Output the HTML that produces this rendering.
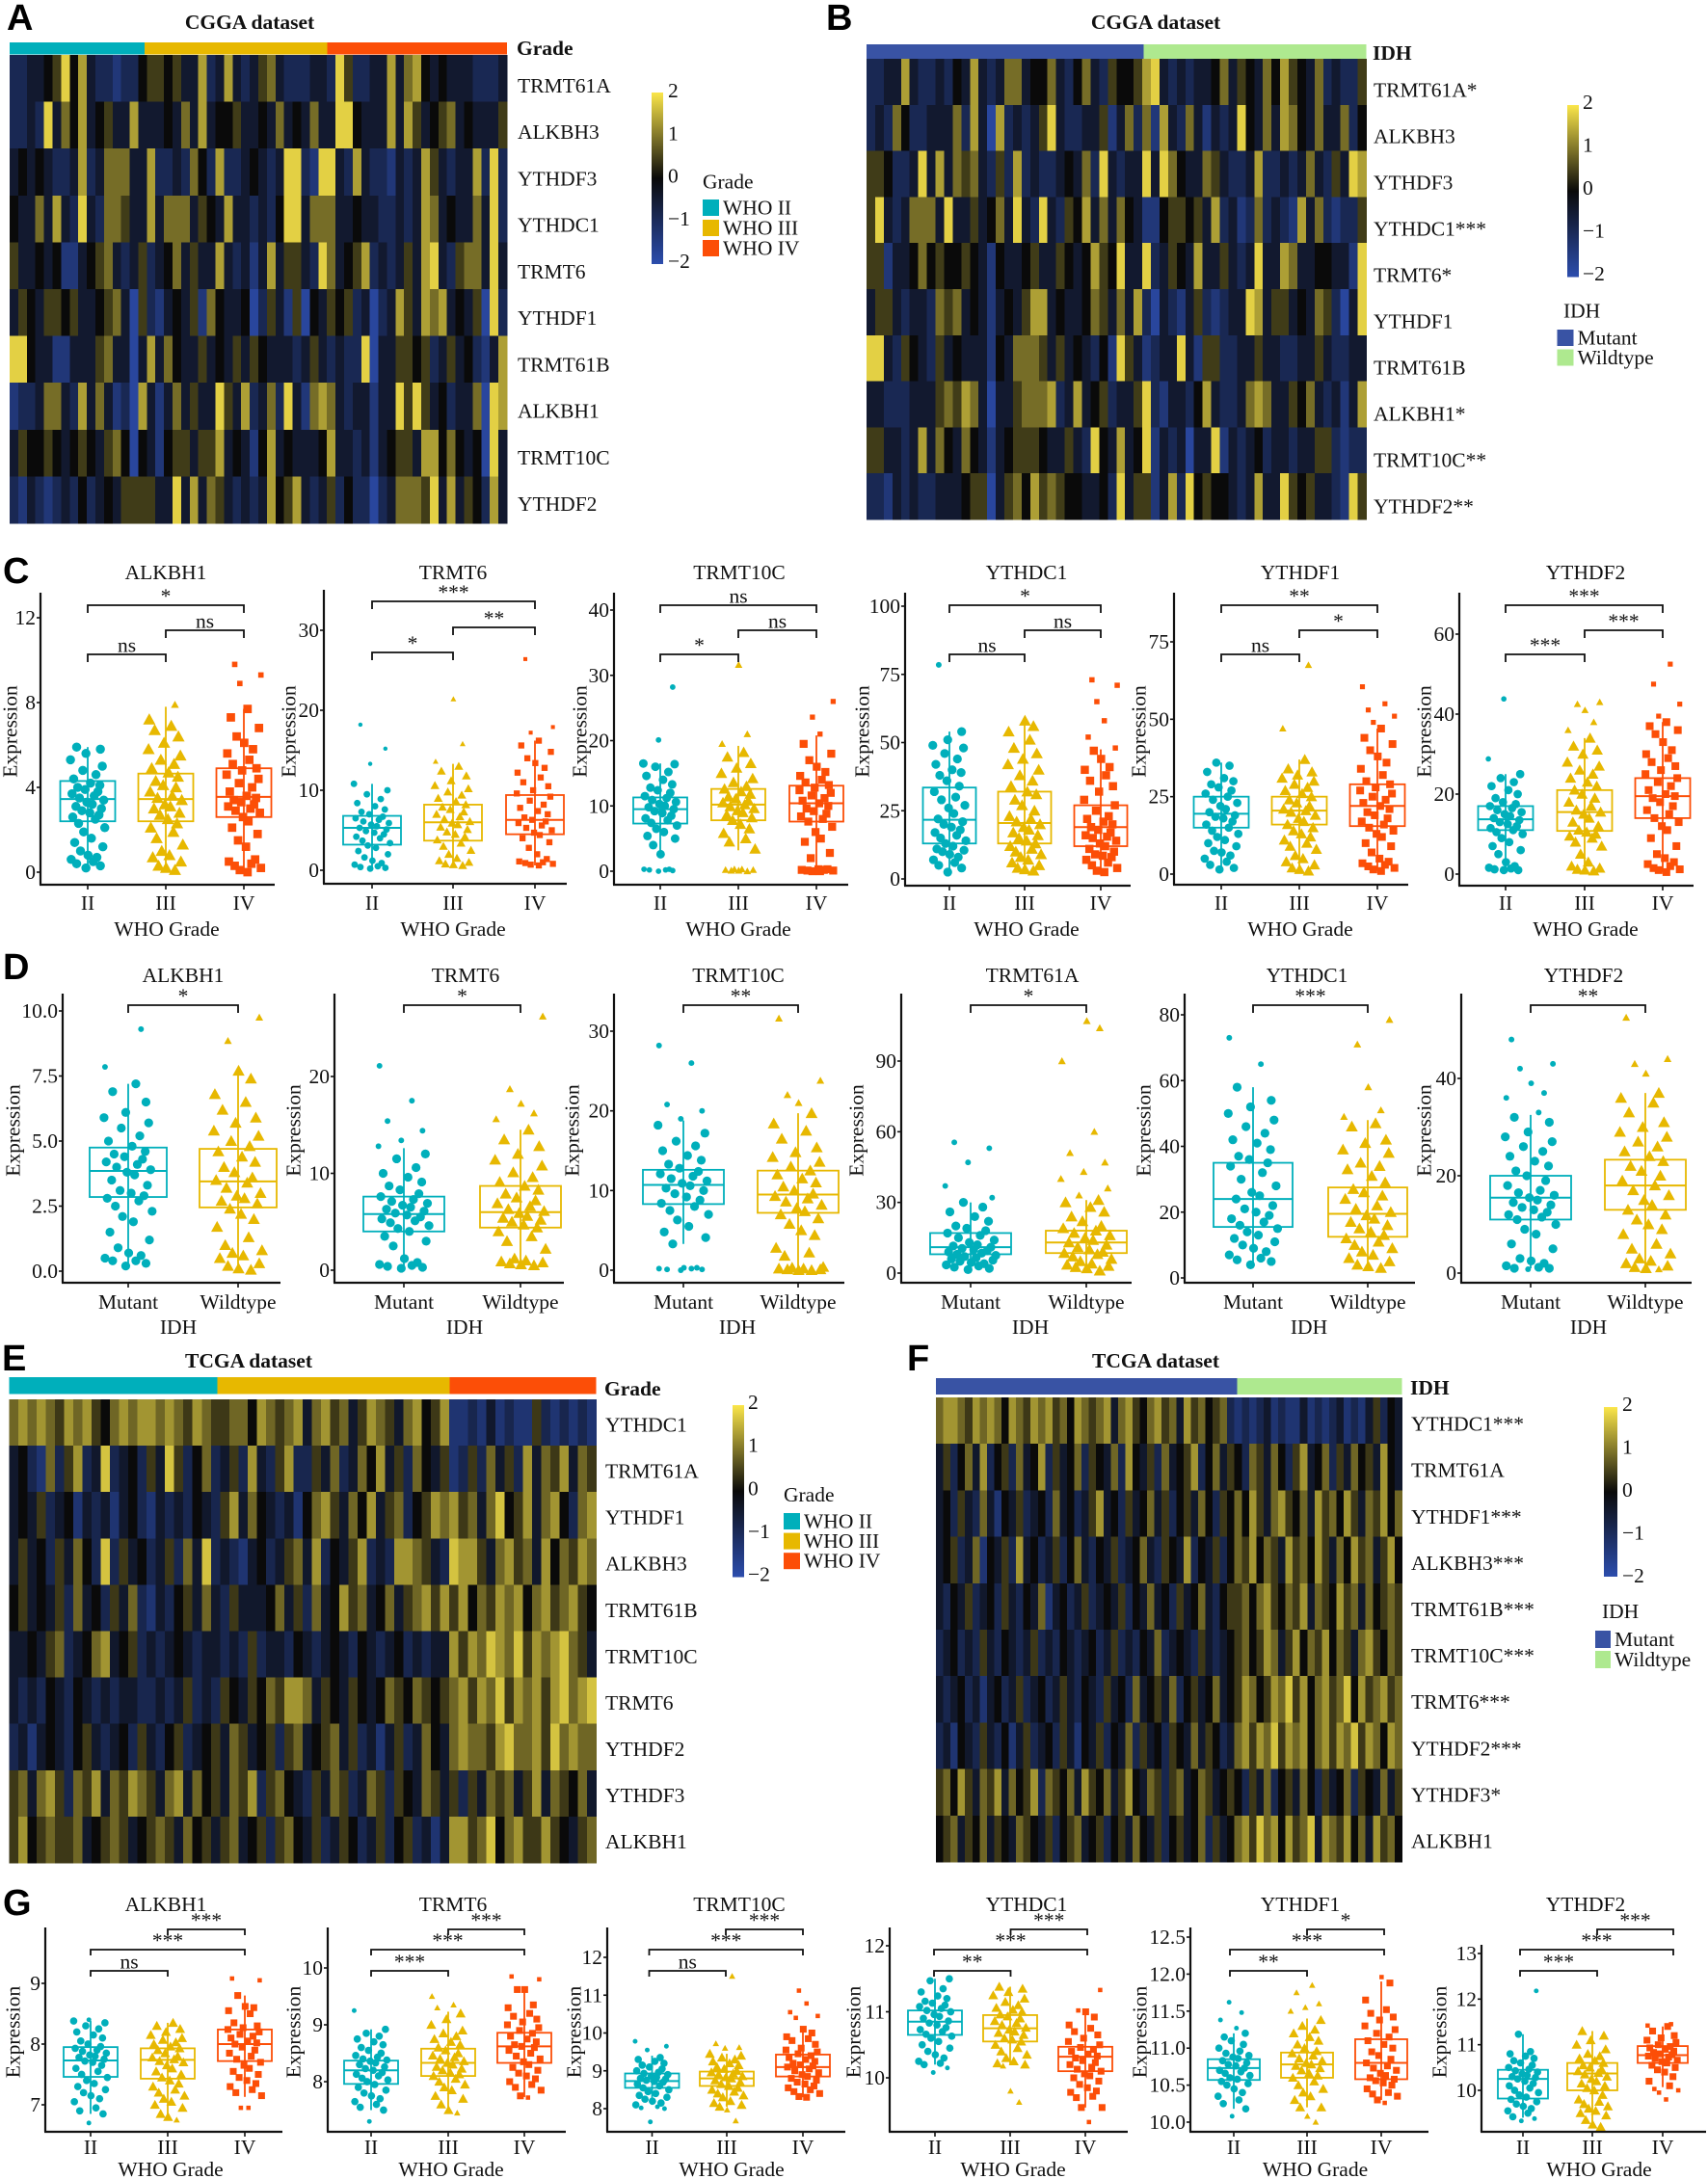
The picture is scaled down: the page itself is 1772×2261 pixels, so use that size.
<!DOCTYPE html>
<html lang="en">
<head>
<meta charset="utf-8">
<title>m6A regulator heatmaps and box plots</title>
<style>
html,body{margin:0;padding:0;background:#fff}
svg{display:block}
text{font-family:"Liberation Serif","Noto Serif CJK SC",serif;font-size:21.5px;fill:#111}
.letter{font-family:"Liberation Sans",sans-serif;font-weight:700;font-size:38px;fill:#000}
.bold{font-weight:700}
</style>
</head>
<body>
<svg id="fig" xmlns="http://www.w3.org/2000/svg" width="1772" height="2261" viewBox="0 0 1772 2261">
<defs>
<linearGradient id="cbar" x1="0" y1="0" x2="0" y2="1">
<stop offset="0" stop-color="#fbe64a"/><stop offset="0.5" stop-color="#0a0a0a"/><stop offset="1" stop-color="#2c4dad"/>
</linearGradient>
</defs>
<rect x="0" y="0" width="1772" height="2261" fill="#fff"/>
<text class="letter" x="7" y="31">A</text>
<text class="letter" x="857" y="31">B</text>
<text class="letter" x="3" y="605">C</text>
<text class="letter" x="3" y="1016">D</text>
<text class="letter" x="2" y="1422">E</text>
<text class="letter" x="941" y="1422">F</text>
<text class="letter" x="3" y="1987">G</text>
<text class="bold" x="259" y="30" text-anchor="middle">CGGA dataset</text>
<text class="bold" x="1199" y="30" text-anchor="middle">CGGA dataset</text>
<text class="bold" x="258" y="1419" text-anchor="middle">TCGA dataset</text>
<text class="bold" x="1199" y="1419" text-anchor="middle">TCGA dataset</text>
</svg>
<script>
/* ---------- heatmap data (z-scores stored as level x unit) ---------- */
const zUnitCGGA = 0.45;
const zUnitTCGA = 0.42;
const colorbarTicks = [2,1,0,-1,-2];
const colorbarLabels = ['2','1','0','\u22121','\u22122'];
const gradeNames = ['WHO II','WHO III','WHO IV'];
const idhNames = ['Mutant','Wildtype'];
const gradeCountsA = [103,139,137];
const idhCountsB = [177,142];
const gradeCountsE = [216,241,152];
const idhCountsF = [312,171];
const labelsA = ['TRMT61A','ALKBH3','YTHDF3','YTHDC1','TRMT6','YTHDF1','TRMT61B','ALKBH1','TRMT10C','YTHDF2'];
const labelsB = ['TRMT61A*','ALKBH3','YTHDF3','YTHDC1***','TRMT6*','YTHDF1','TRMT61B','ALKBH1*','TRMT10C**','YTHDF2**'];
const labelsE = ['YTHDC1','TRMT61A','YTHDF1','ALKBH3','TRMT61B','TRMT10C','TRMT6','YTHDF2','YTHDF3','ALKBH1'];
const labelsF = ['YTHDC1***','TRMT61A','YTHDF1***','ALKBH3***','TRMT61B***','TRMT10C***','TRMT6***','YTHDF2***','YTHDF3*','ALKBH1'];
const heatA = [
[-2,-2,-1,-1,0,1,4,0,3,-1,-2,-2,-3,-2,-2,0,1,1,0,1,-1,-1,3,-2,-1,3,-1,-2,-1,1,2,-1,-2,-2,-2,-1,-1,-2,4,1,-2,-2,-1,-1,3,-1,2,3,0,-1,0,-1,-1,-1,-2,-2,-2,-1],
[-2,-2,-1,-2,4,-1,2,0,3,-1,0,1,-1,-1,3,-1,-1,-1,0,-1,2,-1,3,-1,0,0,1,-1,-1,0,-1,2,-1,0,-1,2,-1,-1,4,4,0,-1,-1,-1,3,-1,3,1,-1,0,1,2,-1,0,-1,-1,-1,1],
[-1,0,-1,0,-1,-2,-2,-1,3,-2,-1,2,2,2,-1,-1,3,-2,-2,-1,-2,2,0,-2,3,-2,-2,-1,0,-1,-2,-1,4,4,-2,-3,4,4,-1,-2,3,-1,-2,-2,-3,-1,-2,-1,3,1,-1,-2,-1,-1,3,-2,4,-2],
[0,-1,-1,2,-1,3,-1,-2,4,-1,-2,2,2,1,-1,-1,3,-1,2,2,2,-1,1,0,-1,3,-1,-1,-2,-1,-2,0,4,4,-1,2,2,2,-1,-1,0,-1,-1,-2,-2,-1,-2,-1,3,2,-1,0,-1,-1,2,-1,4,-2],
[1,-1,-1,0,-1,0,-3,-3,-1,0,1,2,-1,-2,-1,1,-2,-1,0,2,-1,1,-1,-1,3,-1,-2,-1,-3,-1,3,-1,1,1,-1,-2,4,2,-1,0,1,3,-2,-1,-2,-1,1,-1,3,4,-1,-2,1,2,2,-1,4,-1],
[-1,1,0,-1,1,1,0,1,-1,-1,0,1,2,-1,-4,1,-2,-3,-1,0,-1,1,-3,2,0,-1,-1,0,-4,-2,1,-1,-3,1,-4,0,-1,1,0,1,-2,-1,-4,-2,-1,3,1,-1,3,2,3,-1,0,-1,1,-4,4,-2],
[4,4,0,-1,-1,-3,-3,-1,-1,-1,1,2,-1,-1,-4,-1,3,-1,2,0,-1,-1,1,-1,0,-1,1,-1,1,0,-1,-1,-1,-2,-1,1,-1,-2,-1,-2,-2,4,-4,-1,-1,1,1,0,1,-2,-1,1,-1,0,-2,-3,-1,3],
[-3,-2,-2,-1,2,2,-1,-2,3,-1,2,-1,-3,-2,-4,3,-1,-3,-1,2,-1,1,-1,-1,4,1,-1,3,-2,-1,2,-2,4,-1,-3,2,3,2,-1,-2,-1,-1,-3,-1,-1,4,1,4,1,-1,0,-2,-1,-1,2,-4,4,3],
[-1,1,0,0,1,0,-1,0,1,0,-1,1,2,0,-4,0,-1,-3,0,1,1,-1,1,1,3,-1,0,-1,-3,0,3,-1,0,-1,-1,-1,0,3,-1,-1,-2,-1,-3,-1,0,1,1,-1,3,3,0,2,0,-1,0,-4,4,-1],
[-2,-3,-1,-2,-3,-2,-1,-2,0,-2,-1,0,-1,1,1,1,1,-1,-1,4,-1,3,-1,2,1,-1,-2,-1,-2,-1,3,0,1,3,-1,-2,-1,1,-2,0,-2,-2,-4,-2,-1,2,2,2,1,4,-1,3,-1,1,0,-2,3,-1]
];
const heatB = [
[-2,-2,-1,-1,3,-1,-2,-2,-1,-2,0,-1,3,-1,-2,-1,2,2,-1,0,0,2,-1,-2,0,2,-1,-2,1,0,0,1,3,4,-1,-2,-1,-2,-1,-1,0,2,-1,1,0,-1,2,0,3,1,0,-1,2,-2,-1,-2,-2,1],
[-2,-1,-2,2,0,-2,-2,-1,-1,-1,2,-2,3,-1,-4,3,-2,-1,-2,-1,1,4,-1,-2,-2,-1,-1,1,-3,-1,2,-2,2,-3,3,-1,-2,2,-1,-3,-1,-2,-1,4,0,-1,2,-1,3,2,0,-1,2,-1,-1,2,-2,0],
[1,1,0,-2,-2,-1,4,-1,3,-1,2,1,2,-1,-2,1,-2,3,-2,-1,-2,-2,-1,0,-1,2,-2,4,-1,-2,-1,-1,4,-1,4,2,0,-1,-1,2,1,-1,-2,-2,-1,3,-2,-2,-1,-2,-1,2,-1,-2,1,-1,4,3],
[1,4,-1,-2,-1,2,2,2,-1,4,-1,-1,1,-1,0,2,-1,4,-1,-2,4,-1,-2,1,0,3,-1,2,-1,2,0,-1,-3,-3,0,1,1,0,1,-1,3,-2,-1,-3,-2,2,-2,-1,-2,-3,3,-1,2,-2,-3,-2,-2,1],
[1,1,-3,-1,-1,0,2,0,1,0,0,1,0,-1,-3,0,-1,-1,0,1,-1,-1,1,0,-1,0,3,1,0,4,-1,-1,4,-2,-1,1,0,-1,3,-1,-1,1,-1,-2,-1,4,-1,-1,3,2,-1,-1,0,0,-1,-1,-3,4],
[-1,1,1,-1,-2,-1,-1,-2,2,1,2,-1,0,-1,-3,-1,0,-1,1,3,3,-1,0,-1,-1,0,2,1,-1,2,-1,3,-2,-4,-1,-2,-3,-1,1,-2,-3,-2,-1,-1,4,3,-1,1,1,-1,0,-1,2,1,-2,-4,-1,4],
[4,4,-1,-2,1,0,-1,-2,1,-1,0,-1,-1,-1,-3,0,-1,2,2,2,1,-1,1,-1,0,-1,-2,0,-3,4,1,-1,-3,-2,-1,-1,4,-1,-3,1,1,-2,-2,-1,-1,1,-1,-1,-2,-2,-1,-1,1,-1,-2,-2,-1,-1],
[-1,-1,-2,-2,-2,-1,-1,-1,1,2,1,3,2,-1,-4,-1,-1,1,2,2,2,3,-2,-1,3,-1,0,1,-2,-1,-1,1,4,-2,-3,-1,-1,-2,0,3,-1,-2,-2,-1,2,3,2,-1,-1,1,0,2,-1,-2,-1,-3,-1,3],
[1,1,-1,-1,-2,-1,3,-1,2,0,-1,2,0,-1,-3,-1,0,1,1,1,0,-1,-1,1,-1,-2,4,0,-1,3,-1,0,4,-3,-1,-2,-1,-4,-1,-1,4,-3,-1,-2,-1,0,-2,-1,-1,-2,-1,-1,1,1,-2,-3,-2,-2],
[-2,-2,-3,-1,-2,-1,-2,-2,-1,-1,-1,0,1,1,-4,-1,1,2,0,3,1,2,1,0,0,-1,-1,0,-2,4,-1,1,1,-3,-1,3,-2,4,0,1,0,0,-1,-2,-1,3,-1,-1,4,1,0,1,-1,-1,-2,-3,4,1]
];
const heatE = [
[2,3,2,3,2,1,3,2,3,1,0,2,3,2,3,3,2,3,2,1,3,2,1,1,2,2,0,3,2,1,2,3,-1,2,3,1,2,-1,1,3,2,1,-1,2,3,0,1,3,-3,-3,-2,-3,-1,-3,-2,-3,-3,1,-2,-3,-2,-3,-2,-3],
[-1,0,-2,-3,2,-2,1,3,-2,-1,4,-2,-1,0,-2,1,-1,4,1,-2,0,2,-2,-1,1,-2,3,-1,-2,1,3,-2,-2,1,-1,2,-2,-1,2,0,3,-1,1,-2,2,0,-1,1,-3,-2,1,-2,2,-1,1,-2,3,-1,2,1,3,-1,2,1],
[-1,0,-1,1,-2,-1,0,-3,-1,-2,-1,-3,-1,0,-2,-3,-1,-2,-1,-2,0,-1,-2,1,3,-1,2,0,-1,-2,-1,-3,0,2,3,1,-1,2,0,3,-1,1,2,-2,0,1,3,2,3,1,2,-1,2,4,0,1,3,-1,2,3,0,-2,2,3],
[-1,1,-1,0,-2,1,-1,2,0,-2,4,-2,1,-1,0,-2,-1,1,-2,2,-1,4,-2,-1,-2,-3,-1,0,-2,-1,1,2,-1,3,-2,0,-1,1,3,-2,-1,-2,3,3,2,1,-1,-2,4,3,3,1,-1,2,3,1,2,-1,3,0,2,1,3,2],
[0,1,-1,0,-1,1,-2,2,-1,0,-2,1,-1,2,-2,-3,-1,-2,0,1,-1,2,-1,-2,1,-1,-1,-1,0,2,-1,1,-2,2,-1,0,3,1,2,-1,0,2,-1,1,2,3,1,3,1,3,0,2,1,3,2,3,0,2,3,1,2,3,1,0],
[-1,-1,0,-1,1,2,-2,-1,0,2,3,-1,0,1,-2,-1,-2,-1,0,-1,-2,-1,-1,-2,-1,-2,1,-2,-1,-1,-2,0,-1,-2,-1,0,-1,-2,0,-1,-2,-1,0,-2,-1,-2,-1,-1,3,1,3,2,4,3,2,4,1,3,2,3,4,2,1,-1],
[-1,-2,-1,-2,0,-1,-2,0,-1,-2,-1,-2,-1,-1,-2,-2,-1,-2,-1,1,-2,-1,-2,1,0,-1,1,0,2,1,3,3,2,-1,1,0,-1,1,0,-1,0,2,1,0,2,1,0,1,2,3,1,3,2,4,1,3,2,3,1,3,4,2,3,4],
[-2,-1,-3,-1,0,-1,-2,0,1,-1,-2,-1,0,-2,1,-1,-2,0,1,-2,-1,0,1,-1,2,1,-1,0,1,-2,1,2,-1,0,1,2,-1,1,-2,-1,-3,-1,1,-2,-1,2,0,-1,2,3,2,2,1,3,4,2,2,3,1,4,2,3,2,2],
[1,2,-1,2,3,1,-2,2,1,3,-1,2,1,3,2,1,-1,2,3,-1,2,0,1,-1,2,1,3,-2,1,2,0,-1,-2,1,-1,2,1,-2,-1,2,1,-2,1,0,-1,2,1,-1,1,-2,1,-1,2,1,2,-1,1,3,-1,2,1,0,2,-1],
[1,3,0,1,2,1,1,2,-1,0,1,2,1,-1,0,1,2,1,-1,2,0,1,-1,1,2,-1,0,1,-2,1,2,0,-1,1,-2,-1,1,0,-2,-1,1,-2,0,1,-2,-1,-3,-1,3,3,1,2,4,0,2,3,1,1,3,1,0,-1,1,2]
];
const heatF = [
[2,3,3,2,1,3,2,3,2,0,3,2,1,3,2,3,1,2,0,3,2,1,2,3,-1,2,3,1,0,2,3,1,2,-1,3,1,2,0,1,2,-2,-3,-2,-3,-2,-1,-3,-2,-3,-3,-1,-3,-2,-3,-2,-1,-3,-2,-3,-1,1,-2,0,-1],
[-1,1,-2,0,2,-1,3,-2,0,1,-2,2,-1,0,3,-2,1,-1,0,2,-2,1,0,-1,2,-2,3,0,-1,1,-2,2,-1,0,1,3,-2,0,2,-1,1,0,-2,2,1,-1,2,0,-2,1,3,-1,0,2,-2,1,-1,2,0,1,-1,3,0,-1],
[-1,0,-2,1,-1,-2,2,-1,-3,0,-1,1,-2,-1,0,-2,2,-1,0,-2,-1,1,3,-1,0,-2,1,-1,0,2,-1,1,-2,0,1,-1,2,0,-2,1,0,2,0,3,1,-1,2,3,1,0,2,-1,3,1,2,0,3,1,-1,2,1,3,0,2],
[-1,0,1,-2,-1,2,-3,0,-1,1,-2,3,-1,0,-2,-1,1,-2,0,2,-1,-2,0,-1,1,-2,-1,0,2,-1,-2,1,0,-1,3,-2,0,-1,1,-2,0,2,1,3,0,2,1,-1,3,1,2,0,3,1,-1,2,0,3,1,2,-1,1,3,0],
[-1,-2,0,-1,1,-2,-1,0,-2,1,-1,-2,0,-1,2,-3,-1,0,-2,-1,1,-2,-1,0,-1,1,-2,0,-1,2,-1,0,-2,1,-1,0,2,-1,-2,0,1,1,2,0,2,3,1,0,2,1,3,-1,2,1,0,3,1,2,-1,2,0,1,2,1],
[-2,-1,0,-2,-1,-2,1,-1,-2,0,-1,-2,-1,1,-2,-1,-2,0,-1,-2,-1,0,-2,-1,1,-2,-1,-2,0,-1,2,-2,-1,0,-1,-2,1,-1,-2,-1,0,1,2,0,1,3,2,-1,1,3,0,2,1,3,0,2,1,-1,2,3,1,0,2,1],
[-1,-2,-1,0,-2,-1,-3,-1,0,-2,-1,1,-2,-1,0,-2,-1,1,-1,-2,0,-1,-2,1,-1,0,-2,2,-1,0,1,-1,2,-2,0,1,-1,0,2,-1,0,1,3,2,0,1,3,2,4,1,3,0,2,3,1,2,4,0,3,1,2,3,1,2],
[-2,-1,-3,0,-1,-2,1,-1,-2,0,-3,-1,1,-2,-1,0,-2,1,-1,-3,0,-1,1,-2,0,-1,2,-2,1,-1,0,-2,1,0,-1,2,-1,1,0,-2,-1,2,3,1,3,2,4,1,3,2,3,0,2,3,1,3,2,4,1,3,2,0,3,2],
[1,2,0,3,1,-1,2,1,3,-1,2,0,1,3,-2,2,1,0,2,-1,3,1,0,2,-1,1,3,0,-1,2,1,-2,1,2,-1,0,2,1,-1,0,1,0,-2,1,-1,2,-2,0,1,-1,2,0,-2,1,-1,0,2,-2,1,0,-1,2,-1,1],
[0,1,2,-1,1,0,2,-1,1,0,-1,2,1,0,-1,1,-2,0,1,2,-1,0,1,-2,0,1,-1,2,0,-1,1,-2,0,1,-1,0,2,-2,1,-1,0,2,3,1,4,2,3,0,3,1,2,4,-1,3,2,1,3,0,2,-1,3,1,2,0]
];

/* ---------- box plot data ---------- */
const groupColors = ['#00AFBB','#E7B800','#FC4E07'];
const gradeCats = ['II','III','IV'];
const idhCats = ['Mutant','Wildtype'];
const jitterPattern = [-.1,.72,-.63,.31,-.94,.52,.02,-.41,.86,-.74,.21,-.23,.97,-.52,.43,-.85,.64,.12,-.33,.78,-.67,.26,-.05,.91,-.47,.37,-.89,.58,-.15,-.57,.69,.16,-.8,.47,-.28,.83,-.98];

/* Panel C */
const cTitles = ['ALKBH1','TRMT6','TRMT10C','YTHDC1','YTHDF1','YTHDF2'];
const cSig = [['ns','ns','*'],['*','**','***'],['*','ns','ns'],['ns','ns','*'],['ns','*','**'],['***','***','***']];
const cTicks = [['0','4','8','12'],['0','10','20','30'],['0','10','20','30','40'],['0','25','50','75','100'],['0','25','50','75'],['0','20','40','60']];
const cBoxes = [
[[2.4,3.45,4.3,.2,5.9],[2.4,3.45,4.65,.1,7.8],[2.6,3.55,4.9,0,7.7]],
[[3.2,5.3,6.8,.2,10.8],[3.7,6,8.2,.6,13.3],[4.5,6.3,9.4,.6,16.2]],
[[7.3,9.5,11.3,2.5,16.5],[7.8,10.2,12.6,3.2,19.2],[7.6,10.4,13.1,0,20.8]],
[[13,21.7,33.5,2.5,54],[13,20.5,32,3,58],[12,19,27,2.5,47.5]],
[[15,19.5,25,1.5,36],[16,20.5,25,1,37],[15.5,22,29,1,47]],
[[11,13.7,17,1,25],[10.8,15.5,21,.8,34],[14,19.5,24,.5,38]]
];
const cVals1 = [
[.2,.3,.4,.5,.6,.7,.8,1,1.2,1.4,1.6,1.9,2.1,2.3,2.5,2.6,2.7,2.8,2.9,3,3.1,3.2,3.3,3.4,3.5,3.6,3.7,3.8,3.9,4,4.1,4.2,4.4,4.6,4.8,5,5.3,5.6,5.8,5.9],
[.1,.2,.3,.5,.7,.8,1,1.3,1.6,1.9,2.1,2.3,2.5,2.7,2.8,3,3.1,3.2,3.4,3.5,3.6,3.8,4,4.1,4.3,4.5,4.7,4.9,5.1,5.3,5.5,5.8,6.1,6.4,6.7,6.9,7.2,7.9],
[0,.1,.2,.3,.4,.5,.6,1.2,1.5,1.8,2.1,2.4,2.6,2.8,2.9,3,3.1,3.2,3.3,3.4,3.5,3.6,3.8,4,4.2,4.4,4.6,4.8,4.9,5.1,5.3,5.6,5.8,6.1,6.4,6.8,7.3,7.7,8.9,9.3,9.8]
];
const cVals2 = [
[.2,.3,.4,.5,.7,.9,1.2,1.6,2,2.4,2.8,3.1,3.4,3.7,4,4.2,4.5,4.7,4.9,5.1,5.3,5.5,5.7,5.9,6.1,6.3,6.5,6.7,7,7.3,7.6,8,8.4,8.9,9.5,10,10.8,13.3,15.2,18.2],
[.6,.7,.8,1,1.2,1.5,2,2.5,3,3.4,3.8,4.2,4.5,4.8,5.1,5.4,5.7,5.9,6.1,6.4,6.7,7,7.3,7.6,7.9,8.2,8.6,9,9.4,9.8,10.2,10.6,11.2,11.8,12.4,13,13.6,15.8,21.4],
[.6,.7,.8,.9,1,1.1,1.4,2,2.8,3.5,4,4.4,4.7,5,5.3,5.6,5.9,6.1,6.3,6.6,7,7.4,7.8,8.2,8.7,9.2,9.6,10,10.5,11,11.6,12.2,12.8,13.4,14,14.8,15.6,16.2,17.2,17.9,26.4]
];
const cVals3 = [
[0,.1,.2,.2,.3,.3,2.6,4,5,5.4,6,6.5,7,7.4,7.8,8.1,8.5,8.9,9.2,9.5,9.8,10,10.3,10.6,10.9,11.2,11.5,12,12.4,12.8,13.3,14,14.6,15.2,16,16.4,16.5,20.1,28.2],
[0,.1,.1,.2,.2,.3,.3,3.4,4.5,5,5.8,6.5,7.2,7.8,8.2,8.6,9,9.3,9.6,9.9,10.2,10.5,10.8,11.1,11.4,11.8,12.2,12.6,13,13.6,14.2,15,15.8,16.5,17.5,18.2,19.5,21,31.6],
[0,0,.1,.1,.2,.2,.3,.3,2,2.8,4.5,5,6,6.8,7.6,8,8.4,8.8,9.2,9.6,10,10.4,10.8,11.2,11.6,12,12.4,12.8,13.2,13.6,14,14.6,15.2,16,17,18,19.5,21,23.6,26]
];
const cVals4 = [
[2.5,4,5,6,7,8,9,10,10.5,11,12,13,14,15,16,17,18,19,20,21,22,24,26,27,29,30,32,34,36,38,39,40,42,44,46,48,49,51,54,78.5],
[3,3.5,4,5,6,7,8,9,10,11,12,13,14,15,16,17,18,19,20,21,22,23,25,27,29,31,32,34,36,38,40,42,44,46,48,51,54,56,58],
[2.5,3,4,5,6,7,8,8.5,9,10,11,12,13,14,15,15.5,16,17,18,19,20,21,22,23,25,27,29,32,34,36,38,40,41,44,47,48,52,58,65,71,73]
];
const cVals5 = [
[1.5,2,3,4,5,6,7,7.5,9,10,11,12,13,14,15,16,17,18,18.5,19,20,21,22,23,24,25,26,27,28,29,30,31,33,35,36],
[1,1.5,2,3,4,5,6,8,9,10,11,12,13,14,15,16,17,18,19,20,20.5,21,22,23,24,25,26,27,28,29,30,31,32,33,34,37,47,67.5],
[1,1.5,2,2.5,3,3.5,4,5,7,9,10,12,13,14,15,16,17,18,19,20,21,22,23,24,25,26,27,28,29,30,32,34,36,38,40,42,44,47,49,51,53,55,60.5]
];
const cVals6 = [
[1,1,1.2,1.4,1.6,2,3,5,6,7,8,9,10,10.5,11,11.5,12,12.5,13,13.5,14,14.5,15,15.5,16,16.5,17,17.5,18,19,20,21,22,23,24,25,28.8,43.8],
[.8,1,1.2,1.5,2,3,5,7,8,9,9.5,10,10.5,11,12,13,14,15,15.5,16,17,18,19,20,21,22,23,24,25,26,27,28,30,31,32,34,36,38,41,42.5,43],
[.5,1,1.2,1.5,2,2.5,3,4,5,7,9,11,12,13,14,15,16,17,18,19,19.5,20,21,22,23,24,25,26,27,28,29,30,31,33,35,36,37,38,39.5,42.5,47.5,52.5]
];

/* Panel D */
const dTitles = ['ALKBH1','TRMT6','TRMT10C','TRMT61A','YTHDC1','YTHDF2'];
const dSig = [['*'],['*'],['**'],['*'],['***'],['**']];
const dTicks = [['0.0','2.5','5.0','7.5','10.0'],['0','10','20'],['0','10','20','30'],['0','30','60','90'],['0','20','40','60','80'],['0','20','40']];
const dBoxes = [
[[2.85,3.85,4.75,.2,7.2],[2.45,3.45,4.7,.05,7.7]],
[[4,5.8,7.6,.2,12.6],[4.4,6,8.7,.5,14.5]],
[[8.3,10.7,12.6,3.3,18.8],[7.2,9.5,12.5,0,19.7]],
[[8,11,17,1.5,30],[8.5,13,18,1,31]],
[[15.5,24,35,4,58],[12.5,19.5,27.5,3,48]],
[[11,15.5,20,1,32.5],[13,18,23.3,1,37]]
];
const dVals1 = [
[.2,.3,.4,.4,.5,.6,.7,.9,1.2,1.5,1.9,2.1,2.3,2.5,2.7,2.8,2.9,3,3.1,3.3,3.5,3.7,3.8,3.9,4,4.1,4.2,4.3,4.4,4.5,4.6,4.8,5,5.2,5.5,5.7,5.9,6.1,6.5,6.9,7.2,7.85,9.3],
[.05,.1,.2,.3,.5,.6,.7,.8,1,1.3,1.7,2,2.2,2.4,2.6,2.7,2.8,2.9,3,3.2,3.4,3.5,3.6,3.8,4,4.2,4.4,4.6,4.8,5,5.2,5.4,5.7,5.9,6.2,6.5,6.8,7.4,7.7,8.85,9.75]
];
const dVals2 = [
[.2,.3,.4,.5,.6,.8,1.2,2.5,3,3.5,4,4.3,4.6,4.9,5.1,5.3,5.5,5.7,5.9,6.1,6.3,6.5,6.7,6.9,7.1,7.3,7.6,7.9,8.3,8.7,9.1,9.6,10,10.6,11.5,12,12.8,13.4,14.4,15.4,17.5,21.1],
[.5,.6,.7,.8,.9,1,1.2,2.2,3,3.5,4,4.4,4.7,5,5.2,5.4,5.6,5.9,6.1,6.3,6.6,6.9,7.2,7.5,7.9,8.3,8.7,9.1,9.6,10.1,10.8,11.4,12,12.8,13.5,14.5,15.6,16.2,17.2,18.7,26.2]
];
const dVals3 = [
[0,.1,.1,.2,.2,.3,.3,3.3,4.1,4.8,5.5,6.3,7,7.5,8,8.4,8.8,9.2,9.6,10,10.3,10.6,10.9,11.2,11.5,11.8,12.1,12.4,12.8,13.3,13.8,14.4,15,15.6,16.2,17.2,18.2,19,20,20.8,26,28.2],
[0,0,.1,.1,.2,.2,.3,.4,1.8,2.2,2.8,4.4,5,5.8,6.5,7,7.4,7.8,8.2,8.6,9,9.3,9.6,10,10.5,11,11.5,12,12.5,13,13.6,14.2,14.8,15.4,16.5,17.5,18.4,19.7,21,22,23.8,31.6]
];
const dVals4 = [
[1.5,2,2.5,3,3.5,4,4.5,5,5.5,6,6.5,7,7.5,8,8.5,9,9.5,10,10.5,11,11.5,12,13,14,15,16,17,18,19,20,22,24,26,28,30,32,37,47,53,55.5],
[1,2,2.5,3,3.5,4,5,6,7,8,8.5,9,10,11,12,13,14,15,16,17,18,19,20,22,24,26,28,30,31,33,36,40,43,47,51,60,90,104,107]
];
const dVals5 = [
[4,5,5.5,6,7,8,9,10,11,12,13,14,15,16,17,18,19,20,21,22,24,25,26,28,30,32,34,35,36,37,39,41,42,44,46,48,50,52,54,58,65,73],
[3,3.5,4,5,6,7,8,9,10,11,12,13,14,15,16,17,18,19,20,21,22,24,25,26,27,29,31,33,34,35,38,39,41,42,46,47,49,51,58,71,78.5]
];
const dVals6 = [
[.8,1,1,1.2,1.5,2,2.5,3,5,6,8,9,10,11,11.5,12,12.5,13,13.5,14,14.5,15,15.5,16,16.5,17,18,19,20,21,22,23,24,25,26,27,28,29,31,32,33,36,37,39,42,43,48],
[.8,1,1.2,1.5,2,2.5,3,4,5,6,8,9,10,11,12,13,14,15,16,17,18,19,20,21,22,23,24,25,26,27,28,29,30,31,33,35,36,37,41,43,44,52.5]
];

/* Panel G */
const gTitles = ['ALKBH1','TRMT6','TRMT10C','YTHDC1','YTHDF1','YTHDF2'];
const gSig = [['ns','***','***'],['***','***','***'],['ns','***','***'],['**','***','***'],['**','***','*'],['***','***','***']];
const gTicks = [['7','8','9'],['8','9','10'],['8','9','10','11','12'],['10','11','12'],['10.0','10.5','11.0','11.5','12.0','12.5'],['10','11','12','13']];
const gBoxes = [
[[7.46,7.73,7.95,6.85,8.38],[7.43,7.74,7.93,6.78,8.35],[7.72,8,8.24,7.13,8.8]],
[[7.96,8.2,8.37,7.5,8.92],[8.1,8.33,8.58,7.5,9.23],[8.33,8.62,8.86,7.73,9.62]],
[[8.55,8.73,8.93,8.1,9.4],[8.6,8.8,8.98,8.05,9.45],[8.85,9.1,9.43,8.3,10.1]],
[[10.65,10.85,11.02,10.2,11.5],[10.55,10.75,10.95,10.2,11.38],[10.1,10.32,10.47,9.55,11]],
[[10.57,10.73,10.85,10.18,11.2],[10.6,10.78,10.94,10.2,11.4],[10.58,10.8,11.12,10.3,11.9]],
[[9.82,10.25,10.45,9.4,11.23],[10,10.37,10.6,9.2,11.3],[10.6,10.77,10.97,10.07,11.4]]
];
const gVals1 = [
[6.7,6.85,6.9,6.95,7.05,7.1,7.15,7.2,7.25,7.3,7.35,7.4,7.45,7.5,7.55,7.6,7.65,7.7,7.72,7.75,7.78,7.8,7.82,7.85,7.88,7.9,7.93,7.96,8,8.05,8.1,8.15,8.2,8.25,8.3,8.35,8.38,8.4],
[6.75,6.8,6.85,6.95,7,7.05,7.1,7.15,7.2,7.25,7.3,7.35,7.4,7.45,7.5,7.55,7.6,7.65,7.7,7.72,7.75,7.78,7.8,7.85,7.9,7.93,7.96,8,8.03,8.07,8.1,8.15,8.2,8.25,8.3,8.35],
[6.95,6.95,7.15,7.2,7.25,7.3,7.35,7.4,7.45,7.5,7.55,7.6,7.65,7.7,7.75,7.8,7.85,7.9,7.95,8,8.02,8.05,8.1,8.13,8.16,8.2,8.24,8.27,8.3,8.35,8.5,8.55,8.6,8.62,8.8,9.05,9.08]
];
const gVals2 = [
[7.3,7.5,7.55,7.6,7.65,7.7,7.75,7.8,7.85,7.9,7.95,8,8.03,8.06,8.1,8.13,8.16,8.2,8.23,8.26,8.3,8.33,8.36,8.38,8.4,8.43,8.46,8.5,8.55,8.6,8.65,8.7,8.75,8.8,8.85,8.92,9.25],
[7.45,7.5,7.6,7.7,7.75,7.85,7.9,7.95,8,8.05,8.1,8.13,8.16,8.2,8.23,8.26,8.3,8.33,8.36,8.4,8.43,8.46,8.5,8.55,8.6,8.65,8.7,8.75,8.8,8.85,8.9,9,9.1,9.2,9.3,9.35,9.5],
[7.72,7.75,7.85,7.9,7.95,8,8.05,8.1,8.15,8.2,8.25,8.3,8.35,8.4,8.45,8.5,8.55,8.6,8.62,8.65,8.7,8.75,8.8,8.85,8.9,8.95,9,9.05,9.1,9.15,9.2,9.3,9.35,9.62,9.62,9.8,9.85]
];
const gVals3 = [
[7.65,8,8.02,8.05,8.1,8.15,8.2,8.25,8.3,8.35,8.4,8.45,8.5,8.55,8.6,8.65,8.7,8.72,8.75,8.78,8.8,8.83,8.86,8.9,8.93,8.96,9,9.05,9.1,9.15,9.2,9.25,9.3,9.35,9.55,9.65,9.78],
[7.68,7.97,8.05,8.1,8.15,8.2,8.3,8.35,8.4,8.45,8.5,8.55,8.6,8.65,8.7,8.75,8.8,8.83,8.86,8.9,8.93,8.96,9,9.05,9.1,9.15,9.2,9.25,9.3,9.35,9.4,9.45,9.6,9.62,9.72,11.5],
[8.3,8.32,8.4,8.45,8.5,8.55,8.6,8.65,8.7,8.75,8.8,8.85,8.9,8.95,9,9.05,9.1,9.13,9.16,9.2,9.25,9.3,9.35,9.4,9.45,9.5,9.55,9.6,9.7,9.8,9.85,9.9,10,10.1,10.4,10.45,10.55,10.78,11.12]
];
const gVals4 = [
[10.08,10.15,10.2,10.22,10.25,10.3,10.35,10.4,10.45,10.5,10.55,10.6,10.63,10.66,10.7,10.73,10.76,10.8,10.83,10.86,10.9,10.93,10.96,11,11.02,11.05,11.08,11.1,11.13,11.16,11.2,11.24,11.3,11.35,11.47,11.5],
[9.63,9.8,10.18,10.2,10.22,10.25,10.3,10.35,10.4,10.45,10.5,10.55,10.58,10.6,10.65,10.68,10.7,10.73,10.76,10.8,10.83,10.86,10.9,10.93,10.96,11,11.03,11.06,11.1,11.15,11.2,11.25,11.3,11.35,11.38],
[9.33,9.55,9.55,9.7,9.72,9.78,9.8,9.85,9.9,9.95,10,10.03,10.06,10.1,10.13,10.16,10.2,10.23,10.26,10.3,10.33,10.36,10.4,10.43,10.46,10.5,10.55,10.6,10.65,10.7,10.75,10.8,10.92,11,11.02,11.33]
];
const gVals5 = [
[10.08,10.18,10.25,10.3,10.35,10.4,10.45,10.5,10.52,10.55,10.58,10.6,10.63,10.66,10.68,10.7,10.73,10.76,10.78,10.8,10.83,10.86,10.88,10.9,10.93,10.96,11,11.05,11.1,11.15,11.2,11.27,11.38,11.48,11.62],
[10,10.08,10.2,10.2,10.3,10.35,10.4,10.45,10.5,10.55,10.6,10.63,10.66,10.7,10.73,10.76,10.78,10.8,10.83,10.86,10.9,10.93,10.96,11,11.05,11.1,11.15,11.2,11.25,11.3,11.38,11.5,11.55,11.6,11.75,11.85],
[10.26,10.3,10.35,10.38,10.4,10.45,10.5,10.53,10.56,10.58,10.6,10.63,10.66,10.7,10.73,10.76,10.8,10.85,10.9,10.95,11,11.05,11.1,11.15,11.2,11.25,11.3,11.38,11.42,11.47,11.52,11.65,11.88,11.96]
];
const gVals6 = [
[9.33,9.38,9.42,9.5,9.55,9.6,9.65,9.7,9.75,9.8,9.85,9.9,9.95,10,10.05,10.1,10.15,10.2,10.25,10.28,10.3,10.33,10.36,10.4,10.43,10.46,10.5,10.55,10.6,10.65,10.7,10.75,10.8,10.85,11.23,12.18],
[9.2,9.25,9.35,9.45,9.5,9.55,9.6,9.65,9.7,9.75,9.8,9.9,10,10.05,10.1,10.15,10.2,10.25,10.3,10.35,10.38,10.42,10.46,10.5,10.55,10.6,10.65,10.7,10.75,10.8,10.9,11,11.1,11.2,11.3],
[9.8,9.95,10,10.03,10.1,10.2,10.3,10.4,10.45,10.5,10.55,10.6,10.63,10.66,10.7,10.73,10.75,10.78,10.8,10.83,10.86,10.9,10.93,10.96,11,11.05,11.1,11.15,11.2,11.3,11.4,11.42,11.45]
];

/* ---------- drawing ---------- */
const svg = document.getElementById('fig');
const NS = 'http://www.w3.org/2000/svg';
function mk(tag, attrs, parent) {
  const e = document.createElementNS(NS, tag);
  for (const k in attrs) e.setAttribute(k, attrs[k]);
  (parent || svg).appendChild(e);
  return e;
}
function lerp(a, b, t) { return Math.round(a + (b - a) * t); }
function zColor(z) {
  const c = Math.max(-2, Math.min(2, z)) / 2;
  const mid = [10,10,10], hi = [251,230,74], lo = [44,77,173];
  const end = c >= 0 ? hi : lo, t = Math.abs(c);
  return 'rgb(' + lerp(mid[0],end[0],t) + ',' + lerp(mid[1],end[1],t) + ',' + lerp(mid[2],end[2],t) + ')';
}
function drawHeat(name, f, rows, labels, counts, annColors, annName) {
  const g = mk('g', {});
  
  
  const rowH = (f.y1 - f.y0) / rows.length;
  rows.forEach(function (row, i) {
    const colW = (f.x1 - f.x0) / row.length;
    row.forEach(function (v, j) {
      const cell = mk('rect', {x: f.x0 + j * colW, y: f.y0 + i * rowH, width: colW + 0.4, height: rowH + 0.4, fill: zColor(v * f.unit), 'shape-rendering': 'crispEdges'}, g);
      
      
    });
    const lab = mk('text', {x: f.labelX, y: f.lab0 + i * (f.lab1 - f.lab0) / (rows.length - 1) + 7}, g);
    lab.textContent = labels[i];
    
    
  });
  const total = counts.reduce(function (a, b) { return a + b; }, 0);
  let cx = f.x0;
  counts.forEach(function (n, k) {
    const w = (f.x1 - f.x0) * n / total;
    const seg = mk('rect', {x: cx, y: f.ann0, width: w, height: f.ann1 - f.ann0, fill: annColors[k], 'shape-rendering': 'crispEdges'}, g);
    
    
    cx += w;
  });
  const ann = mk('text', {x: f.labelX - 1, y: f.annY + 7, class: 'bold'}, g);
  ann.textContent = annName;
  
  
}
function drawColorbar(name, c) {
  const g = mk('g', {});
  
  
  const bar = mk('rect', {x: c.x0, y: c.y0, width: c.x1 - c.x0, height: c.y1 - c.y0, fill: 'url(#cbar)'}, g);
  
  
  colorbarTicks.forEach(function (t, i) {
    const y = c.t2 + (2 - t) * (c.tm2 - c.t2) / 4;
    const lab = mk('text', {x: c.lx, y: y + 7}, g);
    lab.textContent = colorbarLabels[i];
    
    
  });
}
function drawLegend(name, l, title, names, colors) {
  const g = mk('g', {});
  
  
  const t = mk('text', {x: l.tx, y: l.ty + 7}, g);
  t.textContent = title;
  
  
  names.forEach(function (n, i) {
    const y = l.sy + i * l.step;
    const s = mk('rect', {x: l.sx, y: y, width: l.sw, height: l.sh, fill: colors[i]}, g);
    
    
    const lab = mk('text', {x: l.sx + l.sw + 4, y: y + l.sh / 2 + 7}, g);
    lab.textContent = n;
    
    
  });
}
function drawMarker(kind, x, y, r, color, g) {
  let m;
  if (kind === 0) {
    m = mk('circle', {cx: x, cy: y, r: r, fill: color}, g);
  } else if (kind === 1) {
    const a = r * 1.35;
    m = mk('polygon', {points: x + ',' + (y - a) + ' ' + (x + a) + ',' + (y + a * 0.8) + ' ' + (x - a) + ',' + (y + a * 0.8), fill: color}, g);
  } else {
    const a = r * 0.92;
    m = mk('rect', {x: x - a, y: y - a, width: 2 * a, height: 2 * a, fill: color}, g);
  }
  
  
}
function drawBoxPanel(p, title, vals, boxes, ticks, sig, cats, xTitle) {
  const g = mk('g', {});
  
  
  const v0 = parseFloat(ticks[0]), v1 = parseFloat(ticks[ticks.length - 1]);
  const Y = function (v) { return p.py0 + (v - v0) * (p.py1 - p.py0) / (v1 - v0); };
  const X = function (i) { return p.cats[i]; };
  /* boxes and points */
  vals.forEach(function (groupVals, gi) {
    const b = boxes[gi], color = groupColors[gi];
    const wh = mk('line', {x1: X(gi), x2: X(gi), y1: Y(b[3]), y2: Y(b[4]), stroke: color, 'stroke-width': 1.8}, g);
    
    
    const rc = mk('rect', {x: X(gi) - p.half, y: Y(b[2]), width: 2 * p.half, height: Y(b[0]) - Y(b[2]), fill: 'none', stroke: color, 'stroke-width': 1.8}, g);
    
    
    groupVals.forEach(function (v, i) {
      const jx = jitterPattern[(i + gi * 5) % jitterPattern.length] * p.half * 0.64;
      const inside = v >= b[3] && v <= b[4];
      drawMarker(gi, X(gi) + jx, Y(v), inside ? p.r * 1.32 : p.r * 0.85, color, g);
    });
    const med = mk('line', {x1: X(gi) - p.half, x2: X(gi) + p.half, y1: Y(b[1]), y2: Y(b[1]), stroke: color, 'stroke-width': 2}, g);
    
    
  });
  /* axes */
  const ya = mk('line', {x1: p.axL, x2: p.axL, y1: p.axT, y2: p.axB, stroke: '#111', 'stroke-width': 2.2}, g);
  
  
  const xa = mk('line', {x1: p.axL - 1, x2: p.axR, y1: p.axB, y2: p.axB, stroke: '#111', 'stroke-width': 2.2}, g);
  
  
  ticks.forEach(function (t) {
    const y = Y(parseFloat(t));
    const tk = mk('line', {x1: p.axL - 4, x2: p.axL, y1: y, y2: y, stroke: '#111', 'stroke-width': 1.6}, g);
    
    
    const lb = mk('text', {x: p.axL - 5, y: y + 7, 'text-anchor': 'end'}, g);
    lb.textContent = t;
    
    
  });
  cats.forEach(function (c, i) {
    const tk = mk('line', {x1: X(i), x2: X(i), y1: p.axB, y2: p.axB + 5, stroke: '#111', 'stroke-width': 1.6}, g);
    
    
    const lb = mk('text', {x: X(i), y: p.tickBase, 'text-anchor': 'middle'}, g);
    lb.textContent = c;
    
    
  });
  /* significance brackets */
  sig.forEach(function (s, i) {
    const pr = p.pairs[i], by = p.brY[i];
    const bx = p.bx || p.cats;
    const a = bx[pr[0]], b = bx[pr[1]];
    const br = mk('path', {d: 'M' + a + ' ' + (by + p.drop) + 'V' + by + 'H' + b + 'V' + (by + p.drop), fill: 'none', stroke: '#111', 'stroke-width': 1.8}, g);
    
    
    const lb = mk('text', {x: (a + b) / 2, y: by - 2.5, 'text-anchor': 'middle'}, g);
    lb.textContent = s;
    
    
  });
  /* titles */
  const tt = mk('text', {x: p.ttx, y: p.titleBase, 'text-anchor': 'middle'}, g);
  tt.textContent = title;
  
  
  const xt = mk('text', {x: p.xtx, y: p.xTitleBase, 'text-anchor': 'middle'}, g);
  xt.textContent = xTitle;
  
  
  const yt = mk('text', {x: 0, y: 0, 'text-anchor': 'middle', transform: 'translate(' + (p.ytx + 2.5) + ',' + p.yty + ') rotate(-90)'}, g);
  yt.textContent = 'Expression';
  
  
}

const annGrade = groupColors;
const annIdh = ['#3953a4','#aee98f'];
drawHeat('panel-a', {unit:zUnitCGGA,x0:10,x1:526,y0:57,y1:543,ann0:44,ann1:56.5,annY:50,labelX:537,lab0:89,lab1:523}, heatA, labelsA, gradeCountsA, annGrade, 'Grade');
drawHeat('panel-b', {unit:zUnitCGGA,x0:899,x1:1417.5,y0:61,y1:539,ann0:46,ann1:61,annY:55,labelX:1425,lab0:93.5,lab1:525.7}, heatB, labelsB, idhCountsB, annIdh, 'IDH');
drawHeat('panel-e', {unit:zUnitTCGA,x0:9.4,x1:618.5,y0:1452,y1:1933,ann0:1429,ann1:1446.5,annY:1441,labelX:628,lab0:1478.6,lab1:1911}, heatE, labelsE, gradeCountsE, annGrade, 'Grade');
drawHeat('panel-f', {unit:zUnitTCGA,x0:971,x1:1454.5,y0:1450,y1:1932,ann0:1430,ann1:1447,annY:1440,labelX:1464,lab0:1477.6,lab1:1910.5}, heatF, labelsF, idhCountsF, annIdh, 'IDH');
drawColorbar('panel-a', {x0:676,x1:688,y0:96,y1:274,lx:693,t2:94,tm2:271});
drawColorbar('panel-b', {x0:1626,x1:1638,y0:109,y1:287.5,lx:1642,t2:106,tm2:284});
drawColorbar('panel-e', {x0:760,x1:772,y0:1458,y1:1636.5,lx:776,t2:1455,tm2:1633.5});
drawColorbar('panel-f', {x0:1664,x1:1678,y0:1460,y1:1636,lx:1683,t2:1457,tm2:1635});
drawLegend('panel-a', {tx:729,ty:188.5,sx:729,sy:207,sw:17,sh:17,step:21}, 'Grade', gradeNames, annGrade);
drawLegend('panel-b', {tx:1622,ty:322.5,sx:1615.5,sy:342,sw:17,sh:17,step:20.5}, 'IDH', idhNames, annIdh);
drawLegend('panel-e', {tx:813,ty:1551,sx:813,sy:1570,sw:17,sh:17,step:20.6}, 'Grade', gradeNames, annGrade);
drawLegend('panel-f', {tx:1662,ty:1672,sx:1655,sy:1692,sw:16,sh:18,step:21}, 'IDH', idhNames, annIdh);

const cPairs = [[0,1],[1,2],[0,2]];
const cCommon = {pairs:cPairs,drop:8,tickBase:944,xTitleBase:971,titleBase:601,yty:759};
const cLayouts = [
{name:'panel-c-alkbh1',axL:42,axR:285,axT:615,axB:918,py0:905,py1:641,cats:[91,172,253],half:28.5,r:3.6,ytx:15,xtx:173,ttx:172,brY:[679,654,628]},
{name:'panel-c-trmt6',axL:336,axR:588,axT:612,axB:917,py0:903,py1:654,cats:[386,470,555],half:30,r:2.6,ytx:304,xtx:470,ttx:470,brY:[677,651,624]},
{name:'panel-c-trmt10c',axL:637,axR:880,axT:615,axB:918,py0:904,py1:633,cats:[685,766,847],half:28,r:3.4,ytx:606,xtx:766,ttx:767,brY:[679,654,628]},
{name:'panel-c-ythdc1',axL:939,axR:1173,axT:615,axB:919,py0:912,py1:629,cats:[985,1063,1142],half:27.5,r:3.5,ytx:899,xtx:1065,ttx:1065,brY:[679,654,628]},
{name:'panel-c-ythdf1',axL:1218,axR:1461,axT:615,axB:918,py0:907,py1:666,cats:[1267,1348,1429],half:28.5,r:3.3,ytx:1186,xtx:1349,ttx:1349,brY:[679,654,628]},
{name:'panel-c-ythdf2',axL:1514,axR:1757,axT:615,axB:919,py0:907,py1:658,cats:[1562,1644,1725],half:28.5,r:3.3,ytx:1482,xtx:1645,ttx:1645,brY:[679,654,628]}
];
[cVals1,cVals2,cVals3,cVals4,cVals5,cVals6].forEach(function (vals, i) {
  drawBoxPanel(Object.assign({}, cCommon, cLayouts[i]), cTitles[i], vals, cBoxes[i], cTicks[i], cSig[i], gradeCats, 'WHO Grade');
});

const dCommon = {pairs:[[0,1]],drop:8,tickBase:1358,xTitleBase:1384,titleBase:1019,yty:1173,axT:1031,axB:1331,brY:[1043],r:3.5};
const dLayouts = [
{name:'panel-d-alkbh1',axL:65,axR:291,py0:1319,py1:1049,cats:[133,247],half:40,ytx:18,xtx:185,ttx:190},
{name:'panel-d-trmt6',axL:347,axR:585,py0:1318,py1:1117,cats:[419,540],half:42,ytx:309,xtx:482,ttx:483},
{name:'panel-d-trmt10c',axL:637,axR:876,py0:1318,py1:1070,cats:[709,828],half:42,ytx:598,xtx:765,ttx:766},
{name:'panel-d-trmt61a',axL:935,axR:1174,py0:1321,py1:1101,cats:[1007,1127],half:42,ytx:893,xtx:1069,ttx:1071},
{name:'panel-d-ythdc1',axL:1229,axR:1468,py0:1326,py1:1053,cats:[1300,1419],half:41,ytx:1191,xtx:1358,ttx:1356},
{name:'panel-d-ythdf2',axL:1516,axR:1755,py0:1321,py1:1119,cats:[1588,1707],half:42,ytx:1482,xtx:1648,ttx:1643}
];
[dVals1,dVals2,dVals3,dVals4,dVals5,dVals6].forEach(function (vals, i) {
  drawBoxPanel(Object.assign({}, dCommon, dLayouts[i]), dTitles[i], vals, dBoxes[i], dTicks[i], dSig[i], idhCats, 'IDH');
});

const gCommon = {pairs:[[0,1],[0,2],[1,2]],drop:6,tickBase:2235,xTitleBase:2258,titleBase:1983,yty:2108.5,axT:2000,axB:2212,brY:[2045,2023,2002],r:2.9};
const gLayouts = [
{name:'panel-g-alkbh1',axL:47,axR:293,py0:2184,py1:2058,cats:[94,174,254],half:28,ytx:18,xtx:177,ttx:172},
{name:'panel-g-trmt6',axL:340,axR:587,py0:2160,py1:2042,cats:[385,465,544],half:28,ytx:309,xtx:468,ttx:470},
{name:'panel-g-trmt10c',axL:630,axR:877,py0:2188,py1:2031,cats:[676.5,754,833],half:28,ytx:600,xtx:759,ttx:767,bx:[673.5,753,833]},
{name:'panel-g-ythdc1',axL:923,axR:1170,py0:2156,py1:2019,cats:[970,1048,1126],half:28,ytx:890,xtx:1051,ttx:1065,bx:[969,1048.5,1128]},
{name:'panel-g-ythdf1',axL:1235,axR:1482,py0:2202,py1:2010,cats:[1280,1356,1433],half:27,ytx:1187,xtx:1364.5,ttx:1349,bx:[1276,1356,1436]},
{name:'panel-g-ythdf2',axL:1537,axR:1770,axT:2018,py0:2169,py1:2027,cats:[1580,1652,1725],half:26,ytx:1498,xtx:1659,ttx:1645,bx:[1577,1657,1736]}
];
[gVals1,gVals2,gVals3,gVals4,gVals5,gVals6].forEach(function (vals, i) {
  drawBoxPanel(Object.assign({}, gCommon, gLayouts[i]), gTitles[i], vals, gBoxes[i], gTicks[i], gSig[i], gradeCats, 'WHO Grade');
});
</script>
</body>
</html>
